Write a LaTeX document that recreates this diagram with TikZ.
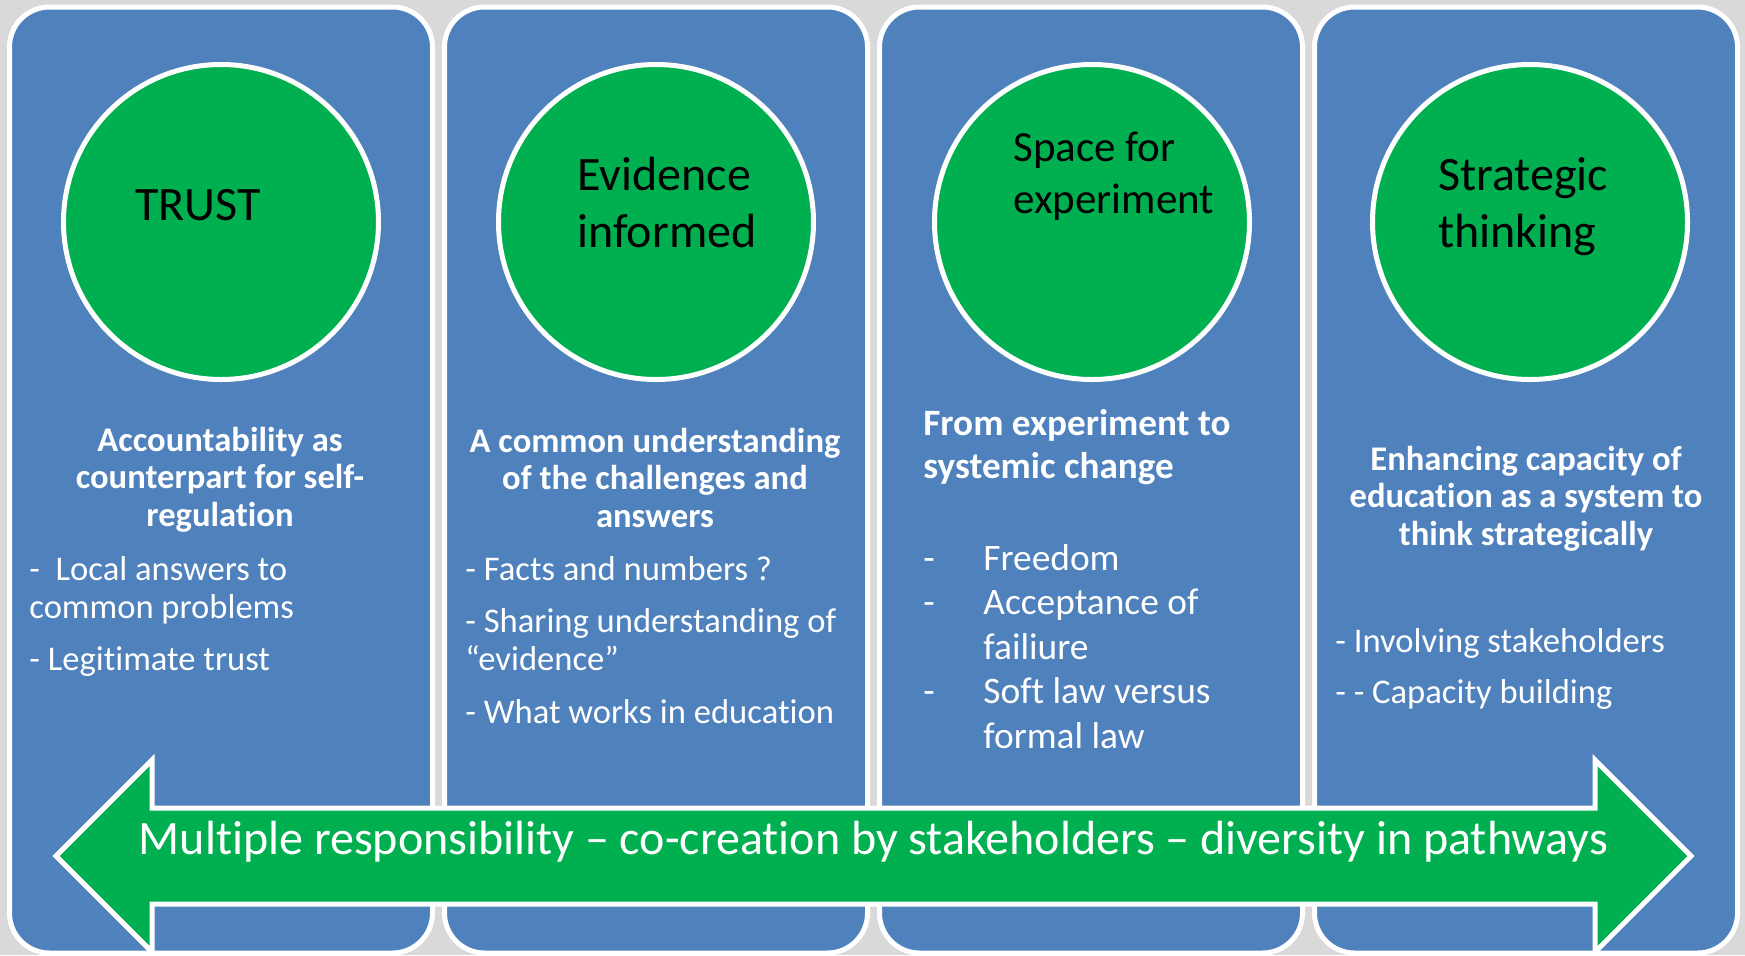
\documentclass[tikz,border=0pt]{standalone}
\usepackage{fontspec}
\setmainfont{Carlito}[Ligatures={TeX,NoCommon}]
\definecolor{panelblue}{HTML}{4F81BD}
\definecolor{hubgreen}{HTML}{00B050}
\definecolor{canvasgray}{HTML}{D9D9D9}

\begin{document}
\begin{tikzpicture}[x=0.5pt, y=-0.5pt]
\useasboundingbox (0,0) rectangle (1745,955);
\fill[canvasgray] (0,0) rectangle (1745,955);

% the four columns
\begin{scope}[panel/.style={fill=panelblue, draw=white, line width=2.5pt, rounded corners=20pt}]
    \draw[panel] (9.5,7) rectangle (432.5,953);
    \draw[panel] (444.5,7) rectangle (867.5,953);
    \draw[panel] (879.5,7) rectangle (1302.5,953);
    \draw[panel] (1314.5,7) rectangle (1737.5,953);
\end{scope}

\begin{scope}[every node/.style={circle, fill=hubgreen, draw=white, line width=2.5pt,
                                 minimum size=157.5pt, inner sep=0pt}]
    \node (trust) at (221,222) {};
    \node (evidence) at (656,222) {};
    \node (space) at (1092,222) {};
    \node (strategic) at (1530,222) {};
\end{scope}

% multi-line nodes sit on the baseline of their last line
\begin{scope}[every node/.style={inner sep=0pt, align=left}]
    \node[anchor=base, font=\fontsize{24}{28.5}\selectfont] (trustlbl) at (198,220) {TRUST};
    \node[anchor=base west, font=\fontsize{24}{28.5}\selectfont] (evidencelbl) at (577,247) {Evidence\\informed};
    \node[anchor=base west, font=\fontsize{21.5}{26}\selectfont] (spacelbl) at (1013,213) {Space for\\experiment};
    \node[anchor=base west, font=\fontsize{24}{28.5}\selectfont] (strategiclbl) at (1438,247) {Strategic\\thinking};
\end{scope}

\begin{scope}[every node/.style={text=white, inner sep=0pt},
              head/.style={font=\fontsize{17.3}{18.75}\selectfont\bfseries, align=center, anchor=base},
              item/.style={font=\fontsize{17.3}{19}\selectfont, align=left, anchor=base west}]
    \node[head] (accountability) at (220,526) {Accountability as\\counterpart for self-\\regulation};
    \node[item] (local) at (29,618) {-~~Local answers to\\common problems};
    \node[item] (legitimate) at (29,670) {- Legitimate trust};

    \node[head] (common) at (655,527) {A common understanding\\of the challenges and\\answers};
    \node[item] (facts) at (465,580) {- Facts and numbers ?};
    \node[item] (sharing) at (465,670) {- Sharing understanding of\\``evidence''};
    \node[item] (works) at (465,723) {- What works in education};

    \node[head, anchor=base west, align=left, font=\fontsize{18.6}{21.5}\selectfont\bfseries] (fromexp) at (923,478) {From experiment to\\systemic change};
    \node[anchor=base west, font=\fontsize{18.7}{22.25}\selectfont] (freedom) at (923,570)
        {\begin{tabular}[t]{@{}p{30pt}@{}l@{}}
         - & Freedom\\
         - & Acceptance of\\
           & failiure\\
         - & Soft law versus\\
           & formal law
         \end{tabular}};

    \node[head] (enhancing) at (1526,545) {Enhancing capacity of\\education as a system to\\think strategically};
    \node[item] (involving) at (1335,652) {- Involving stakeholders};
    \node[item] (capacity) at (1335,703) {- - Capacity building};
\end{scope}

% band across the bottom
\draw[fill=hubgreen, draw=white, line width=2.5pt]
    (56,856) -- (152,760) -- (152,808) -- (1595,808) -- (1595,760) -- (1691,856)
    -- (1595,952) -- (1595,904) -- (152,904) -- (152,952) -- cycle;
\node[text=white, inner sep=0pt, anchor=base, font=\fontsize{24}{28}\selectfont] (band) at (873.5,854)
    {Multiple responsibility – co-creation by stakeholders – diversity in pathways};
\end{tikzpicture}
\end{document}
